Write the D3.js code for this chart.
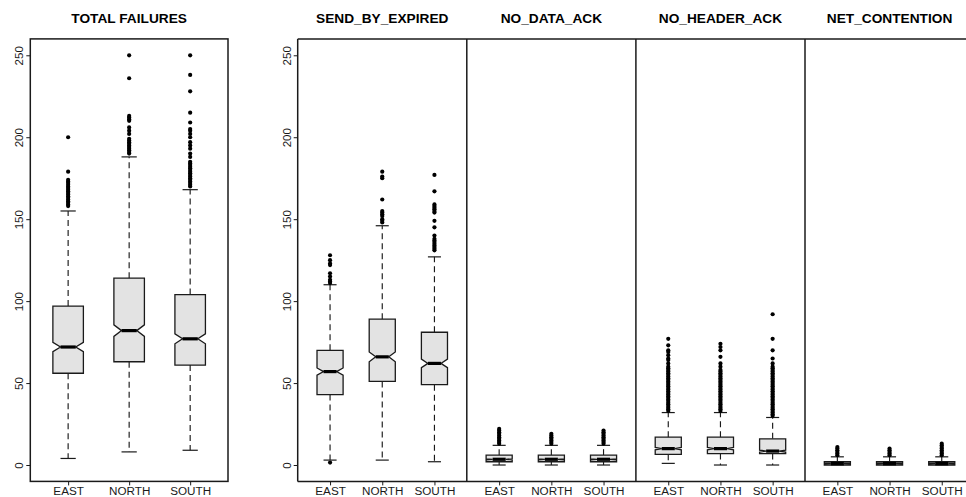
<!DOCTYPE html>
<html>
<head>
<meta charset="utf-8">
<script src="https://cdn.jsdelivr.net/npm/d3@7"></script>
<style>
  body { margin: 0; background: #fff; }
  svg { display: block; font-family: "Liberation Sans", Arial, sans-serif; }
</style>
</head>
<body>
<div id="chart"></div>
<script>
// groups and panels
const groups = ['EAST', 'NORTH', 'SOUTH'];
const panelTitles = ['TOTAL FAILURES', 'SEND_BY_EXPIRED', 'NO_DATA_ACK', 'NO_HEADER_ACK', 'NET_CONTENTION'];
const yTicks = [0, 50, 100, 150, 200, 250];

// box stats, one row per panel, one value per group (EAST, NORTH, SOUTH)
const whiskerLow  = [[4, 8, 9], [3, 3, 2], [0, 0, 0], [1, 0, 0], [0, 0, 0]];
const q1          = [[56, 63, 61], [43, 51, 49], [2, 2, 2], [6.5, 7, 7], [0, 0, 0]];
const median      = [[72, 82, 77], [57, 66, 62], [3.5, 3.5, 3.5], [10, 10, 8.5], [1, 1, 1]];
const q3          = [[97, 114, 104], [70, 89, 81], [6, 6, 6], [17, 17, 16], [2, 2, 2]];
const whiskerHigh = [[155, 188, 168], [110, 146, 127], [12, 12, 12], [32, 32, 29], [5, 5, 5]];
const notchHalf   = [[2.8, 3.5, 3], [2.2, 3, 2.6], [0.3, 0.3, 0.3], [0.7, 0.7, 0.6], [0.1, 0.1, 0.1]];

// outliers
const outTotal = [
  [158, 159, 160, 161, 162, 163, 164, 165, 166, 167, 168, 169, 170, 171, 172, 173, 174, 179, 200],
  [190, 191, 192, 193, 194, 195, 196, 197, 198, 199, 202, 204, 206, 210, 211, 212, 213, 236, 250],
  [170, 171, 172, 173, 174, 175, 176, 177, 178, 179, 180, 181, 182, 183, 184, 185, 188, 190, 193, 195,
   197, 200, 202, 204, 205, 209, 215, 228, 238, 250]
];
const outSend = [
  [1.5, 111, 112, 113, 115, 117, 122, 123, 125, 128],
  [148, 149, 150, 152, 153, 154, 155, 162, 175, 176, 179],
  [131, 132, 133, 134, 135, 136, 137, 138, 140, 145, 149, 154, 155, 156, 157, 158, 159, 167, 177]
];
const outData = [
  [13, 14, 15, 16, 17, 18, 19, 20, 21, 22],
  [13, 14, 15, 16, 17, 18, 19],
  [13, 14, 15, 16, 17, 18, 19, 20, 21]
];
const outHeader = [
  [33, 34, 35, 36, 37, 38, 39, 40, 41, 42, 43, 44, 45, 46, 47, 48, 49, 50, 51, 52, 53, 54, 55, 56, 57, 58,
   59, 60, 62, 64, 65, 67, 69, 70, 73, 77],
  [33, 34, 35, 36, 37, 38, 39, 40, 41, 42, 43, 44, 45, 46, 47, 48, 49, 50, 51, 52, 53, 54, 55, 56, 57, 58,
   60, 62, 66, 70, 72, 74],
  [30, 31, 32, 33, 34, 35, 36, 37, 38, 39, 40, 41, 42, 43, 44, 45, 46, 47, 48, 49, 50, 51, 52, 53, 54, 55,
   56, 57, 58, 59, 60, 62, 65, 70, 77, 92]
];
const outNet = [
  [6, 7, 8, 9, 10, 11],
  [6, 7, 8, 9, 10],
  [6, 7, 8, 9, 10, 11, 12, 13]
];
const outliers = [outTotal, outSend, outData, outHeader, outNet];

(function draw() {
  const W = 966, H = 497;
  const ink = '#1a1a1a';
  const svg = d3.select('#chart').append('svg')
    .attr('width', W).attr('height', H);

  const top = 38.9, bottom = 481.4;
  const y = d3.scaleLinear().domain([-10, 260]).range([bottom, top]);

  // pixel extents of each panel
  const panelX = [[30.3, 228], [297.7, 466.8], [466.8, 635.9], [635.9, 805], [805, 974.1]];

  panelTitles.forEach((title, p) => {
    const x = d3.scaleLinear().domain([0.38, 3.62]).range(panelX[p]);
    const unit = x(1) - x(0);
    const half = 0.25 * unit;      // boxwex 0.5
    const g = svg.append('g');

    // title
    g.append('text')
      .attr('x', (panelX[p][0] + panelX[p][1]) / 2)
      .attr('y', 23)
      .attr('text-anchor', 'middle')
      .attr('font-weight', 'bold')
      .attr('font-size', 13.7)
      .attr('fill', '#000')
      .text(title);

    // y axis on first and second panel
    if (p < 2) {
      const ay = g.append('g').attr('transform', `translate(${panelX[p][0]},0)`)
        .call(d3.axisLeft(y).tickValues(yTicks).tickSize(4));
      ay.select('.domain').remove();
      ay.selectAll('line').attr('stroke', ink);
      ay.selectAll('text')
        .attr('x', null).attr('dy', null)
        .attr('transform', 'translate(-7,0) rotate(-90)')
        .attr('text-anchor', 'middle')
        .attr('font-size', 11.5)
        .attr('fill', '#1a1a1a');
    }

    // x axis
    const ax = g.append('g').attr('transform', `translate(0,${bottom})`)
      .call(d3.axisBottom(x).tickValues([1, 2, 3]).tickFormat(i => groups[i - 1]).tickSize(4));
    ax.select('.domain').remove();
    ax.selectAll('line').attr('stroke', ink);
    ax.selectAll('text')
      .attr('dy', null)
      .attr('y', 13.8)
      .attr('font-size', 11.7)
      .attr('fill', '#1a1a1a');

    groups.forEach((grp, i) => {
      const cx = x(i + 1);
      const lo = whiskerLow[p][i], a = q1[p][i], m = median[p][i],
            b = q3[p][i], hi = whiskerHigh[p][i], n = notchHalf[p][i];

      // whiskers
      g.append('line').attr('x1', cx).attr('x2', cx)
        .attr('y1', y(a)).attr('y2', y(lo))
        .attr('stroke', ink).attr('stroke-width', 1.15).attr('stroke-dasharray', '6,4');
      g.append('line').attr('x1', cx).attr('x2', cx)
        .attr('y1', y(b)).attr('y2', y(hi))
        .attr('stroke', ink).attr('stroke-width', 1.15).attr('stroke-dasharray', '6,4');
      [lo, hi].forEach(v => g.append('line')
        .attr('x1', cx - half / 2).attr('x2', cx + half / 2)
        .attr('y1', y(v)).attr('y2', y(v))
        .attr('stroke', ink).attr('stroke-width', 1.2));

      // notched box
      const pts = [
        [cx - half, a], [cx + half, a], [cx + half, m - n], [cx + half / 2, m],
        [cx + half, m + n], [cx + half, b], [cx - half, b], [cx - half, m + n],
        [cx - half / 2, m], [cx - half, m - n]
      ];
      g.append('path')
        .attr('d', d3.line().x(d => d[0]).y(d => y(d[1]))(pts) + 'Z')
        .attr('fill', '#e3e3e3')
        .attr('stroke', ink)
        .attr('stroke-width', 1.3);

      // median
      g.append('line')
        .attr('x1', cx - half / 2).attr('x2', cx + half / 2)
        .attr('y1', y(m)).attr('y2', y(m))
        .attr('stroke', '#000').attr('stroke-width', 3.2);

      // outliers
      g.selectAll(null).data(outliers[p][i]).join('circle')
        .attr('cx', cx).attr('cy', d => y(d)).attr('r', 2.1)
        .attr('fill', '#000');
    });
  });

  // frames
  const frame = svg.append('g').attr('fill', 'none').attr('stroke', ink).attr('stroke-width', 1.5);
  frame.append('rect')
    .attr('x', panelX[0][0]).attr('y', top)
    .attr('width', panelX[0][1] - panelX[0][0]).attr('height', bottom - top);
  frame.append('line').attr('x1', panelX[1][0]).attr('x2', W).attr('y1', top).attr('y2', top);
  frame.append('line').attr('x1', panelX[1][0]).attr('x2', W).attr('y1', bottom).attr('y2', bottom);
  panelX.slice(1).forEach(px => frame.append('line')
    .attr('x1', px[0]).attr('x2', px[0]).attr('y1', top).attr('y2', bottom));
})();
</script>
</body>
</html>
